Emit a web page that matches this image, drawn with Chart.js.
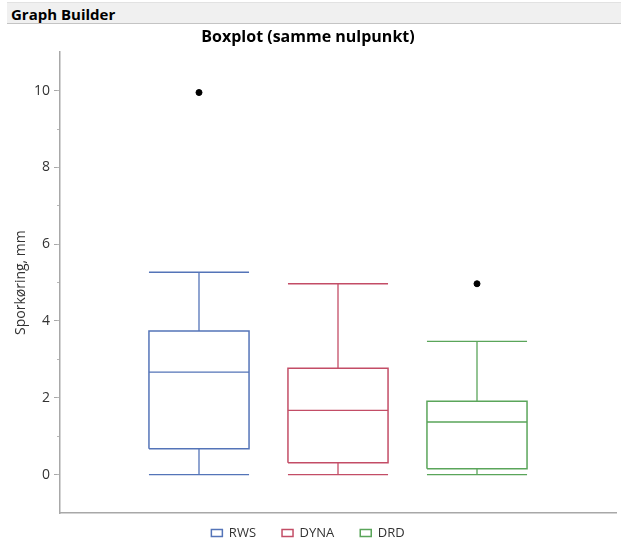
<!DOCTYPE html>
<html>
<head>
<meta charset="utf-8">
<script src="https://cdn.jsdelivr.net/npm/chart.js@4.4.1/dist/chart.umd.min.js"></script>
<style>
    body { margin: 0; background: #fff; }
    #wrap { position: relative; width: 622px; height: 545px; }
    #header {
        position: absolute; left: 7px; top: 2px; width: 614px; height: 22px;
        background: #f0f0f0; border-bottom: 1px solid #c4c4c4; border-top: 1px solid #e2e2e2;
        font: bold 15px "Open Sans", sans-serif; line-height: 22px; padding-left: 4px;
        box-sizing: border-box; color: #000;
    }
    canvas { position: absolute; left: 0; top: 0; }
</style>
</head>
<body>
<div id="wrap">
    <canvas id="boxChart" width="622" height="545"></canvas>
    <div id="header">Graph Builder</div>
</div>
<script>
const categories = ["RWS", "DYNA", "DRD"];
const colors = ["#5474b8", "#c34d66", "#5aa55a"];
const lowWhisker = [0, 0, 0];
const q1 = [0.67, 0.31, 0.15];
const medians = [2.67, 1.67, 1.37];
const q3 = [3.74, 2.77, 1.91];
const highWhisker = [5.27, 4.97, 3.47];
const outliers = [[9.95], [], [4.97]];

const boxHalf = 0.36;
const fontFamily = "'Open Sans', sans-serif";

const boxSets = categories.map((name, i) => {
    const x = i + 1;
    return {
        type: "line",
        label: name,
        data: [
            { x: x - boxHalf, y: q1[i] },
            { x: x + boxHalf, y: q1[i] },
            { x: x + boxHalf, y: q3[i] },
            { x: x - boxHalf, y: q3[i] },
            { x: x - boxHalf, y: q1[i] }
        ],
        borderColor: colors[i],
        backgroundColor: "rgba(0,0,0,0)",
        borderWidth: 1.5,
        pointRadius: 0,
        tension: 0,
        fill: false
    };
});

const whiskerSets = categories.map((name, i) => {
    const x = i + 1;
    return {
        type: "line",
        label: name + " whiskers",
        data: [
            { x: x - boxHalf, y: highWhisker[i] },
            { x: x + boxHalf, y: highWhisker[i] },
            { x: x, y: null },
            { x: x, y: highWhisker[i] },
            { x: x, y: q3[i] },
            { x: x, y: null },
            { x: x - boxHalf, y: medians[i] },
            { x: x + boxHalf, y: medians[i] },
            { x: x, y: null },
            { x: x, y: q1[i] },
            { x: x, y: lowWhisker[i] },
            { x: x, y: null },
            { x: x - boxHalf, y: lowWhisker[i] },
            { x: x + boxHalf, y: lowWhisker[i] }
        ],
        borderColor: colors[i],
        borderWidth: 1.3,
        pointRadius: 0,
        tension: 0,
        spanGaps: false,
        fill: false
    };
});

const outlierSet = {
    type: "scatter",
    label: "outliers",
    data: outliers.flatMap((vals, i) => vals.map(v => ({ x: i + 1, y: v }))),
    backgroundColor: "#000",
    borderColor: "#000",
    pointRadius: 3
};

const boxChart = new Chart(document.getElementById("boxChart"), {
    type: "line",
    data: {
        datasets: [...boxSets, ...whiskerSets, outlierSet]
    },
    options: {
        responsive: false,
        animation: false,
        layout: {
            padding: { top: 26, right: 6, bottom: -17, left: 0 }
        },
        plugins: {
            title: {
                display: true,
                text: "Boxplot (samme nulpunkt)",
                color: "#000",
                font: { family: fontFamily, size: 16, weight: "bold" },
                padding: { top: 2, bottom: 5 }
            },
            legend: {
                position: "bottom",
                labels: {
                    filter: item => categories.includes(item.text),
                    boxWidth: 11,
                    boxHeight: 7,
                    color: "#333",
                    padding: 26,
                    font: { family: fontFamily, size: 13 }
                }
            },
            tooltip: { enabled: false }
        },
        scales: {
            x: {
                type: "linear",
                min: 0,
                max: 4,
                grid: { display: false, drawTicks: false },
                ticks: { display: false },
                border: { color: "#a8a8a8", width: 1.5 },
                afterFit(scale) {
                    scale.height = -12.5;
                }
            },
            y: {
                type: "linear",
                position: "left",
                weight: 1,
                min: -1,
                max: 11,
                ticks: {
                    stepSize: 1,
                    padding: 4,
                    color: "#333",
                    font: { family: fontFamily, size: 14 },
                    callback(value) {
                        return value % 2 === 0 && value >= 0 && value <= 10 ? value : "";
                    }
                },
                grid: {
                    drawOnChartArea: false,
                    tickLength: 6,
                    tickColor(ctx) {
                        const v = ctx.tick ? ctx.tick.value : 0;
                        return v % 2 === 0 && v >= 0 && v <= 10 ? "#a8a8a8" : "rgba(0,0,0,0)";
                    }
                },
                border: { color: "#a8a8a8", width: 1.5 },
                title: {
                    display: true,
                    text: "Sporkøring, mm",
                    color: "#333",
                    font: { family: fontFamily, size: 14 },
                    padding: { top: 13, bottom: 0 }
                },
                afterFit(scale) {
                    scale.width = 60;
                }
            },
            yMinor: {
                type: "linear",
                position: "left",
                weight: 0,
                min: -1,
                max: 11,
                ticks: { display: false, stepSize: 1 },
                grid: {
                    drawOnChartArea: false,
                    tickLength: 3,
                    tickColor(ctx) {
                        const v = ctx.tick ? ctx.tick.value : 0;
                        return v > -1 && v < 11 ? "#b8b8b8" : "rgba(0,0,0,0)";
                    }
                },
                border: { display: false },
                afterFit(scale) {
                    scale.width = 0;
                }
            }
        }
    }
});
</script>
</body>
</html>
